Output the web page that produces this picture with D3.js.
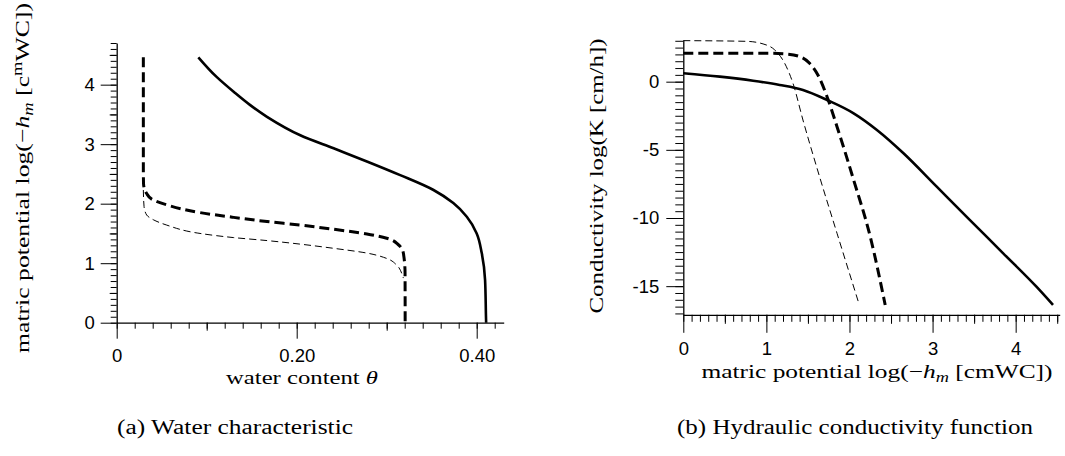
<!DOCTYPE html>
<html>
<head>
<meta charset="utf-8">
<script src="https://cdn.jsdelivr.net/npm/d3@7"></script>
<style>
  body { margin: 0; background: #fff; }
  .tick text { font-family: "Liberation Sans", Arial, sans-serif; font-size: 18.5px; fill: #000; }
  .tick line { stroke: #000; stroke-width: 1; }
  .domain { stroke: #000; stroke-width: 1.3; }
  .serif { font-family: "Liberation Serif", "Times New Roman", serif; fill: #000; }
</style>
</head>
<body>
<script>
// (a) water characteristic: water content theta vs log(-h_m)
let wcSolidTheta = [0.0907, 0.111, 0.130, 0.148, 0.167, 0.204, 0.241, 0.278, 0.315, 0.352, 0.374, 0.389, 0.400, 0.4056, 0.4093, 0.4104, 0.4105]
let wcSolidLogH  = [4.46, 4.13, 3.88, 3.66, 3.46, 3.15, 2.93, 2.71, 2.48, 2.23, 2.01, 1.78, 1.50, 1.17, 0.72, 0.05, 0]

let wcThickTheta = [0.0296, 0.0296, 0.0296, 0.0298, 0.0333, 0.0407, 0.0556, 0.0926, 0.130, 0.167, 0.204, 0.241, 0.278, 0.300, 0.313, 0.3185, 0.3204, 0.3205, 0.3205]
let wcThickLogH  = [4.46, 3.41, 2.57, 2.34, 2.17, 2.06, 1.98, 1.85, 1.77, 1.70, 1.64, 1.57, 1.49, 1.42, 1.31, 1.17, 0.83, 0.05, 0]

let wcThinTheta = [0.0296, 0.0304, 0.0333, 0.0407, 0.0556, 0.0926, 0.130, 0.167, 0.204, 0.241, 0.278, 0.300, 0.311, 0.3167, 0.3185]
let wcThinLogH  = [2.23, 1.95, 1.81, 1.73, 1.64, 1.50, 1.43, 1.38, 1.32, 1.25, 1.17, 1.08, 0.97, 0.83, 0.75]

// (b) hydraulic conductivity: log(-h_m) vs log(K)
let kSolidLogH = [0, 0.44, 0.84, 1.16, 1.44, 1.73, 2.05, 2.33, 2.65, 3.05, 3.45, 3.85, 4.25, 4.45]
let kSolidLogK = [0.62, 0.37, 0.07, -0.24, -0.61, -1.34, -2.32, -3.54, -5.25, -7.70, -10.15, -12.59, -15.04, -16.38]

let kThickLogH = [0, 1.04, 1.24, 1.40, 1.52, 1.62, 1.73, 1.85, 2.05, 2.25, 2.43]
let kThickLogK = [2.08, 2.08, 2.03, 1.84, 1.35, 0.49, -1.10, -3.30, -7.21, -11.37, -16.38]

let kThinLogH = [0, 0.76, 0.96, 1.10, 1.22, 1.32, 1.44, 1.64, 1.85, 2.11]
let kThinLogK = [3.01, 2.96, 2.77, 2.33, 1.35, -0.12, -2.81, -6.97, -11.12, -16.21]

// tick labels
let aXMajor = [0, 0.2, 0.4]
let aXLabels = ['0', '0.20', '0.40']
let aYMajor = [0, 1, 2, 3, 4]
let bXMajor = [0, 1, 2, 3, 4]
let bYMajor = [0, -5, -10, -15]
let bYLabels = ['0', '-5', '-10', '-15']

// measurements
let m = {
  width: 1065,
  height: 456,
  a: { x0: 116.7, y0: 322.7, w: 387, h: 279.7 },
  b: { x0: 683.3, y0: 314.8, w: 376.4, h: 274.7 },
  serif: 19,
}

let svg = d3.select('body')
  .append('svg')
  .attr('width', m.width)
  .attr('height', m.height)

// scales
let ax = d3.scaleLinear().domain([0, 0.43]).range([m.a.x0, m.a.x0 + m.a.w])
let ay = d3.scaleLinear().domain([0, 4.7]).range([m.a.y0, m.a.y0 - m.a.h])
let bx = d3.scaleLinear().domain([0, 4.53]).range([m.b.x0, m.b.x0 + m.b.w])
let by = d3.scaleLinear().domain([-17.1, 3.05]).range([m.b.y0, m.b.y0 - m.b.h])

// draw one set of ticks with a d3 axis; keep the domain line only if asked
function ticks(axis, values, size, pos, keepDomain, fmt, pad) {
  axis.tickValues(values).tickSize(size).tickSizeOuter(0).tickPadding(pad || 3)
    .tickFormat(fmt || function() { return '' })
  let g = svg.append('g').attr('transform', pos).call(axis)
  if (!keepDomain) g.select('.domain').remove()
  return g
}

function steps(lo, hi, st) {
  let out = []
  let n = Math.round((hi - lo) / st)
  for (let i = 0; i <= n; i++) out.push(+(lo + i * st).toFixed(4))
  return out
}

// ---- chart (a) ----
let aBottom = 'translate(0,' + m.a.y0 + ')'
let aLeft = 'translate(' + m.a.x0 + ',0)'
ticks(d3.axisBottom(ax), steps(0, 0.42, 0.02), 6, aBottom, true)
ticks(d3.axisBottom(ax), [0.1, 0.3], 8, aBottom, false)
ticks(d3.axisBottom(ax), aXMajor, 16, aBottom, false, function(d, i) { return aXLabels[i] }, 10)

ticks(d3.axisLeft(ay), steps(0, 4.7, 0.1), 6, aLeft, true)
ticks(d3.axisLeft(ay), [0.5, 1.5, 2.5, 3.5, 4.5], 7, aLeft, false)
ticks(d3.axisLeft(ay), aYMajor, 16, aLeft, false, d3.format('d'), 6)

// ---- chart (b) ----
let bBottom = 'translate(0,' + m.b.y0 + ')'
let bLeft = 'translate(' + m.b.x0 + ',0)'
ticks(d3.axisBottom(bx), steps(0, 4.5, 0.1), 7, bBottom, true)
ticks(d3.axisBottom(bx), [0.5, 1.5, 2.5, 3.5, 4.5], 9, bBottom, false)
ticks(d3.axisBottom(bx), bXMajor, 18, bBottom, false, d3.format('d'), 9)

ticks(d3.axisLeft(by), steps(-17, 3, 0.5), 8, bLeft, true)
ticks(d3.axisLeft(by), bYMajor, 17, bLeft, false, function(d, i) { return bYLabels[i] }, 7)

// ---- curves ----
function curve(xs, ys, xScale, yScale, curveType, width, dash) {
  let pts = xs.map(function(x, i) { return [x, ys[i]] })
  let line = d3.line()
    .x(function(d) { return xScale(d[0]) })
    .y(function(d) { return yScale(d[1]) })
    .curve(curveType)
  svg.append('path')
    .attr('d', line(pts))
    .attr('fill', 'none')
    .attr('stroke', '#000')
    .attr('stroke-width', width)
    .attr('stroke-dasharray', dash)
}

curve(wcSolidTheta, wcSolidLogH, ax, ay, d3.curveMonotoneY, 2.6, null)
curve(wcThickTheta, wcThickLogH, ax, ay, d3.curveMonotoneY, 3, '10,5')
curve(wcThinTheta, wcThinLogH, ax, ay, d3.curveMonotoneY, 1, '7,4')

curve(kSolidLogH, kSolidLogK, bx, by, d3.curveMonotoneX, 2.6, null)
curve(kThickLogH, kThickLogK, bx, by, d3.curveMonotoneX, 3, '10,5')
curve(kThinLogH, kThinLogK, bx, by, d3.curveMonotoneX, 1, '7,4')

// ---- labels ----
// serif text stretched to the width the TeX font takes in the original
function serifText(x, y, rot, len, size) {
  let t = svg.append('text').attr('class', 'serif')
    .attr('font-size', size || m.serif)
    .attr('text-anchor', 'middle')
    .attr('transform', 'translate(' + x + ',' + y + ')' + (rot ? ' rotate(' + rot + ')' : ''))
    .attr('textLength', len)
    .attr('lengthAdjust', 'spacingAndGlyphs')
  return t
}

let lab = serifText(302, 384, 0, 152)
lab.append('tspan').text('water content ')
lab.append('tspan').attr('font-style', 'italic').text('θ')

// matric potential label with sub/superscripts
function matricLabel(g, glitch) {
  g.append('tspan').text('matric potential log(−')
  g.append('tspan').attr('font-style', 'italic').text('h')
  g.append('tspan').attr('font-style', 'italic').attr('font-size', '0.72em').attr('dy', 4).text('m')
  if (glitch) {
    g.append('tspan').attr('dy', -4).text(' [c')
    g.append('tspan').attr('font-size', '0.72em').attr('dy', -7).text('m')
    g.append('tspan').attr('dy', 7).text('WC])')
  } else {
    g.append('tspan').attr('dy', -4).text(' [cmWC])')
  }
}

matricLabel(serifText(29, 178, -90, 350), true)
matricLabel(serifText(877, 378, 0, 351), false)

serifText(603, 176, -90, 275).text('Conductivity log(K [cm/h])')

// captions
serifText(235, 434, 0, 236, 20).text('(a) Water characteristic')
serifText(855, 434, 0, 356, 20).text('(b) Hydraulic conductivity function')
</script>
</body>
</html>
